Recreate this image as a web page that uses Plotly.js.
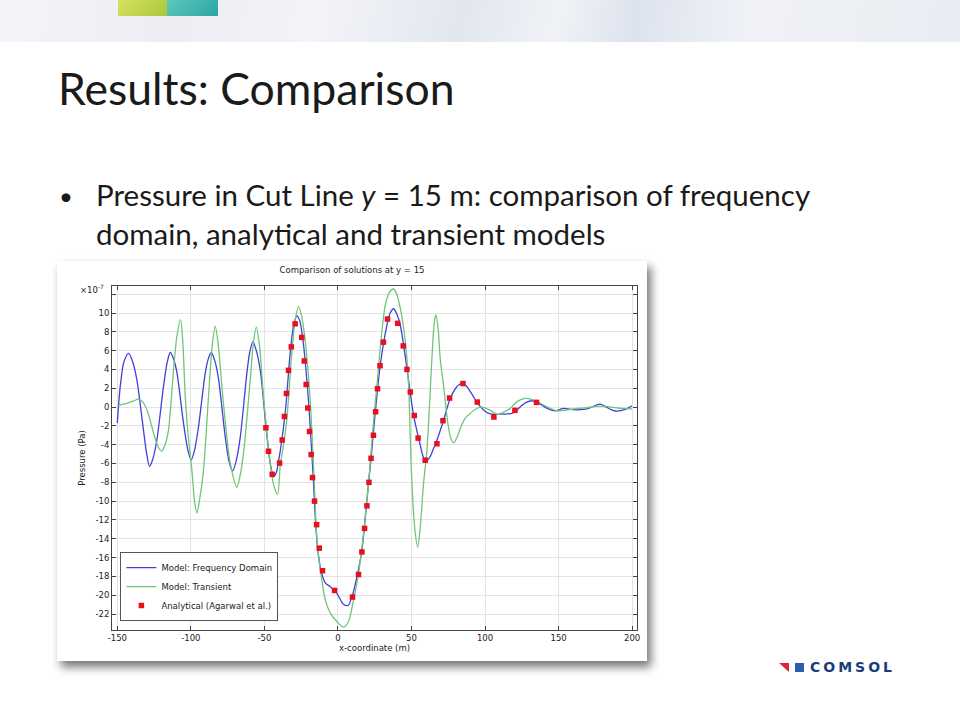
<!DOCTYPE html>
<html><head><meta charset="utf-8">
<script src="https://cdn.plot.ly/plotly-3.0.1.min.js"></script>
<style>
html,body{margin:0;padding:0;width:960px;height:720px;overflow:hidden;background:#fff;}
#banner{position:absolute;left:0;top:0;width:960px;height:42px;
 background:linear-gradient(100deg,#f4f5f8 0%,#eceef3 18%,#f3f4f8 33%,#e2e7ef 48%,#f0f2f6 58%,#dde3ee 66%,#f0f2f7 78%,#e9ecf2 100%);}
#sq1{position:absolute;left:118px;top:0;width:49px;height:16px;background:linear-gradient(135deg,#d8e060,#a8c83a);}
#sq2{position:absolute;left:167px;top:0;width:51px;height:16px;background:linear-gradient(135deg,#5cc8b8,#2aa6a6);}
#title{position:absolute;left:58px;top:61px;font-family:Lato,"Noto Sans",sans-serif;font-size:44.5px;color:#1a1a1a;white-space:nowrap;}
.bul{position:absolute;font-family:Lato,"Noto Sans",sans-serif;font-size:29.5px;color:#1a1a1a;white-space:nowrap;}
#chart{position:absolute;left:57px;top:261px;width:590px;height:400px;background:#fff;box-shadow:4px 6px 9px rgba(0,0,0,0.55);}
#logo{position:absolute;left:779px;top:660px;height:14px;}
#logo .r{position:absolute;left:0;top:3px;width:0;height:0;border-top:9px solid #d8283a;border-left:10px solid transparent;}
#logo .b{position:absolute;left:16px;top:3px;width:9px;height:9px;background:#2a5cb0;}
#logo .t{position:absolute;left:31px;top:-1px;font-family:"DejaVu Sans",sans-serif;font-weight:bold;font-size:14px;letter-spacing:3px;color:#1b3c7c;white-space:nowrap;}
</style></head><body>
<div id="banner"></div><div id="sq1"></div><div id="sq2"></div>
<div id="title">Results: Comparison</div>
<div class="bul" style="left:59px;font-size:24px;top:181px;">•</div>
<div class="bul" style="left:96px;top:177px;">Pressure in Cut Line <i>y</i> = 15 m: comparison of frequency</div>
<div class="bul" style="left:96px;top:216px;">domain, analytical and transient models</div>
<div id="chart"></div>
<div id="logo"><div class="r"></div><div class="b"></div><div class="t">COMSOL</div></div>
<script>
// Pressure values in units of 1e-7 Pa
const freqX = [-150,-148,-145.5,-142.3,-139.5,-136.7,-132.2,-130,-128.1,-126,-123.1,-118.6,-116,-114,-111.5,-109.4,-105,-102,-99.7,-97.5,-94.8,-90.2,-88,-86.1,-83.5,-81.1,-76.6,-74,-71.6,-69,-66.4,-61.9,-60,-57.8,-55.5,-52.8,-48.7,-46,-43.8,-42,-40.4,-35.8,-32.4,-30,-27.9,-26,-23.4,-20,-17.7,-16.6,-15.4,-13.9,-11.6,-8.6,-5.2,-0.7,3.4,6.8,9.5,12.9,16.3,18.6,20.8,22.6,25.4,28.8,33.3,35.5,37.8,40,42.4,46.9,51.4,55.9,58,60,62.5,65,68,71.8,76.3,80,82.5,85.4,88,91,94.5,99,103,106.9,112,118.3,121,124,128,131.9,135,138.7,143,147.7,153.4,158,162.5,166,169.3,174,178.3,182.8,186,189.6,195.3,200];
const freqY = [-1.7,2.2,4.8,5.7,4.8,2.9,-2.45,-5.0,-6.3,-5.6,-3.5,2.2,4.8,5.8,5.0,3.6,-1.7,-4.6,-5.6,-4.6,-2.1,3.6,5.2,5.8,4.8,2.9,-3.2,-5.8,-6.8,-5.6,-3.2,3.6,5.8,6.95,6.0,3.9,-2.45,-6.0,-7.4,-7.0,-5.8,-0.5,5.9,8.8,9.7,9.2,6.6,0.56,-5.1,-8.1,-11.7,-14.9,-17.3,-18.7,-19.1,-19.8,-20.9,-21.1,-20.2,-18.05,-15.2,-11.7,-8.1,-5.3,-0.5,4.5,8.7,10.0,10.45,9.9,8.7,4.1,-0.85,-4.0,-5.3,-5.75,-5.3,-4.4,-3.2,-1.4,0.9,2.0,2.4,2.5,2.1,1.4,0.5,-0.3,-0.7,-0.78,-0.75,-0.67,-0.4,0.03,0.5,0.67,0.5,0.2,-0.2,-0.4,-0.14,-0.25,-0.3,-0.25,-0.2,0.1,0.32,-0.03,-0.3,-0.43,-0.25,0.14];
const tranX = [-150,-146,-143.5,-139,-135.5,-132.5,-129.8,-127.5,-125.3,-122,-119.7,-117.5,-115.2,-113.5,-111.8,-109.5,-107,-105.5,-103.8,-101.5,-99.3,-97.5,-95.9,-94,-91.4,-88,-85.5,-83.4,-81.3,-78.9,-76,-73.2,-68.7,-66.5,-64.2,-59.6,-57.5,-55.5,-53.3,-50.6,-46,-43.5,-41,-39.2,-37,-34.7,-31.3,-29,-26.8,-24.5,-22.2,-18.8,-17,-15.8,-14.3,-11.6,-8.6,-5.2,-0.7,3.8,7.2,10.6,14,17.4,20.8,22.6,24.5,26.5,29.5,32.2,35,37.8,40,42.4,45.8,48,49.2,50.3,52.1,54.2,56,58.2,60.5,63.9,65.5,66.6,68,69.5,72,74.5,76.5,78.7,81,83.1,86,89.9,95,99,103,108.1,112,117.1,122,127.3,131,135.3,142.1,148.9,153,157.9,163,169.3,174,178.3,183,187.4,193,200];
const tranY = [0.1,0.3,0.4,0.65,0.85,0.5,-0.3,-1.5,-2.8,-4.3,-4.7,-4.0,-2.45,0.5,3.9,7.5,9.3,7.0,1.1,-3.5,-6.7,-10.0,-11.25,-9.8,-6.7,1.1,6.5,8.6,6.5,2.2,-2.5,-6.0,-8.5,-7.3,-4.9,2.9,6.8,8.5,6.5,1.1,-6.0,-8.4,-9.25,-6.2,-4.0,-1.2,5.9,9.3,10.7,9.5,6.95,0.56,-5.1,-9.0,-14.1,-17.7,-20.5,-21.9,-22.8,-23.4,-22.8,-20.5,-17.7,-13.4,-8.1,-4.6,-1.0,2.3,7.5,10.85,12.2,12.55,12.0,10.5,7.0,2.4,-3.5,-8.1,-12.7,-14.9,-12.7,-8.1,-4.6,5.2,9.0,9.8,8.5,5.2,2.0,-1.5,-3.2,-3.8,-3.2,-2.3,-1.3,-0.67,-0.1,-0.03,-0.3,-0.78,-0.6,-0.14,0.6,0.92,0.85,0.57,0.03,-0.4,-0.35,-0.25,-0.15,-0.07,0.05,0.1,0.05,-0.03,-0.15,-0.2];
const anaX = [-49,-47.2,-44.7,-39.7,-37.9,-36.4,-35,-33.6,-31.7,-29.1,-24.6,-22.9,-21.6,-20.5,-19.3,-18.2,-17.3,-15.9,-14.5,-12.7,-10.5,-2.3,9.9,14.0,16.3,18.1,19.7,21.1,22.5,24.1,25.6,26.9,28.6,30.9,33.7,40.6,44.4,46.9,49.2,51.9,54.5,59.3,67.3,71.4,75.9,85,94.7,106,120.3,135];
const anaY = [-2.2,-4.7,-7.15,-5.95,-3.5,-1.0,1.45,3.9,6.4,8.85,7.4,4.9,2.4,-0.1,-2.6,-5.05,-7.5,-10.0,-12.5,-15.0,-17.4,-19.5,-20.2,-17.8,-15.4,-12.9,-10.5,-8.0,-5.45,-3.0,-0.5,1.95,4.4,6.9,9.36,8.9,6.5,4.0,1.6,-0.9,-3.3,-5.65,-3.9,-1.45,0.96,2.5,0.53,-1.06,-0.35,0.5];
const xTickVals = [-150,-100,-50,0,50,100,150,200];
const xTickText = ['-150','-100','-50','0','50','100','150','200'];
const yTickVals = [-22,-20,-18,-16,-14,-12,-10,-8,-6,-4,-2,0,2,4,6,8,10];
const yTickText = ['-22','-20','-18','-16','-14','-12','-10','-8','-6','-4','-2','0','2','4','6','8','10'];
const yUnlabeledTicks = [12];

const F = {family:'"DejaVu Sans", sans-serif', size:8.5, color:'#222'};
const traces = [
 {x:freqX, y:freqY, type:'scatter', mode:'lines', name:'Model: Frequency Domain',
  line:{color:'#4040dc', width:1.3, shape:'spline', smoothing:0.8}},
 {x:tranX, y:tranY, type:'scatter', mode:'lines', name:'Model: Transient',
  line:{color:'#6ec676', width:1.3, shape:'spline', smoothing:0.8}},
 {x:anaX, y:anaY, type:'scatter', mode:'markers', name:'Analytical (Agarwal et al.)',
  marker:{symbol:'square', size:5.5, color:'#e8101e'}}
];
const ax = {showline:true, linecolor:'#444', linewidth:1, mirror:'ticks', ticks:'inside', ticklen:4,
  tickcolor:'#444', showgrid:true, gridcolor:'#e3e3e3', gridwidth:1, zeroline:false, tickfont:F};
const layout = {
 width:590, height:400, margin:{l:54.7, r:10.3, t:25, b:31},
 paper_bgcolor:'#ffffff', plot_bgcolor:'#ffffff', font:F, showlegend:true,
 title:{text:'Comparison of solutions at y = 15', font:F, x:0.5, xanchor:'center', y:0.985, yanchor:'top'},
 xaxis:Object.assign({}, ax, {range:[-153.6,203.3], tickmode:'array', tickvals:xTickVals, ticktext:xTickText,
   title:{text:'x-coordinate (m)', font:F, standoff:2}}),
 yaxis:Object.assign({}, ax, {range:[-23.7,12.87], tickmode:'array', tickvals:yTickVals, ticktext:yTickText,
   minor:{tickmode:'array', tickvals:yUnlabeledTicks, ticks:'inside', ticklen:4, tickcolor:'#444', showgrid:true, gridcolor:'#e3e3e3'},
   title:{text:'Pressure (Pa)', font:F, standoff:8}}),
 legend:{x:0.016, y:0.026, xanchor:'left', yanchor:'bottom', bgcolor:'#fff', bordercolor:'#555', borderwidth:1,
   font:F, tracegroupgap:0},
 annotations:[{xref:'paper', yref:'paper', x:0, y:1, xanchor:'right', yanchor:'middle', xshift:-6, yshift:-3,
   text:'×10<sup>-7</sup>', showarrow:false, font:F}]
};
Plotly.newPlot('chart', traces, layout, {displayModeBar:false, staticPlot:true});
</script>
</body></html>
